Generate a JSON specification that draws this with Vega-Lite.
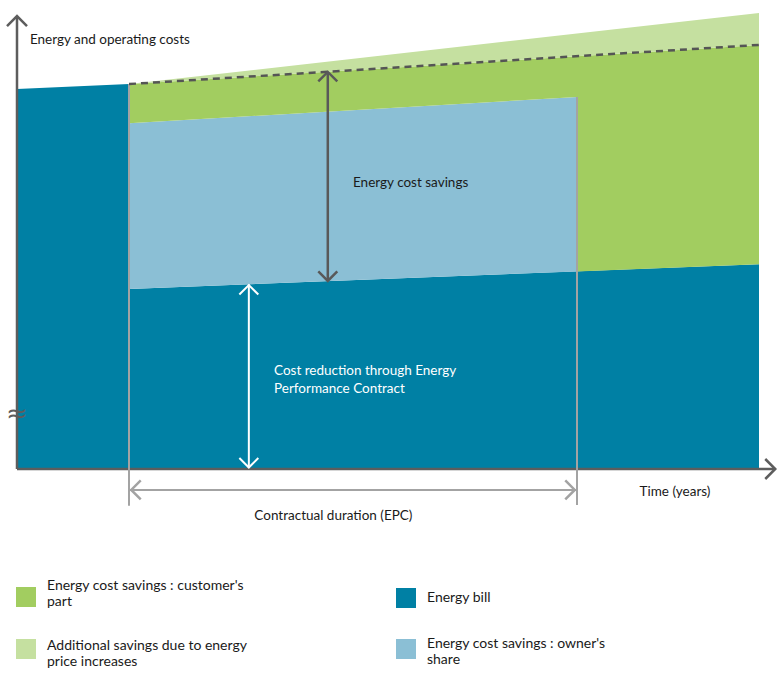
{
  "$schema": "https://vega.github.io/schema/vega-lite/v6.json",
  "width": 742,
  "height": 456,
  "autosize": {"type": "none"},
  "padding": {"left": 17, "top": 13, "right": 23, "bottom": 208},
  "background": "white",
  "config": {"view": {"stroke": null}, "font": "Lato"},
  "datasets": {
    "areas": [
      {"part": "bill_before", "series": "Energy bill", "year": 0, "cost": 100, "cost2": 0},
      {"part": "bill_before", "series": "Energy bill", "year": 2, "cost": 101.3, "cost2": 0},
      {"part": "bill_after", "series": "Energy bill", "year": 2, "cost": 47.4, "cost2": 0},
      {"part": "bill_after", "series": "Energy bill", "year": 13.25, "cost": 53.9, "cost2": 0},
      {"part": "owner", "series": "Energy cost savings : owner's share", "year": 2, "cost": 91, "cost2": 47.4},
      {"part": "owner", "series": "Energy cost savings : owner's share", "year": 10, "cost": 97.9, "cost2": 52.0},
      {"part": "customer_epc", "series": "Energy cost savings : customer's part", "year": 2, "cost": 101.3, "cost2": 91},
      {"part": "customer_epc", "series": "Energy cost savings : customer's part", "year": 10, "cost": 108.6, "cost2": 97.9},
      {"part": "customer_after", "series": "Energy cost savings : customer's part", "year": 10, "cost": 108.6, "cost2": 52.0},
      {"part": "customer_after", "series": "Energy cost savings : customer's part", "year": 13.25, "cost": 111.6, "cost2": 53.9},
      {"part": "additional", "series": "Additional savings due to energy price increases", "year": 2, "cost": 101.3, "cost2": 101.3},
      {"part": "additional", "series": "Additional savings due to energy price increases", "year": 13.25, "cost": 120, "cost2": 111.6}
    ],
    "lines": [
      {"line": "y_axis", "group": "axis", "year": 0, "cost": 0, "year2": 0, "cost2": 119.2},
      {"line": "x_axis", "group": "axis", "year": 0, "cost": 0, "year2": 13.54, "cost2": 0},
      {"line": "epc_start", "group": "grey", "year": 2, "cost": -9.7, "year2": 2, "cost2": 101.3},
      {"line": "epc_end", "group": "grey", "year": 10, "cost": -9.5, "year2": 10, "cost2": 97.9},
      {"line": "duration", "group": "grey", "year": 2, "cost": -5.5, "year2": 10, "cost2": -5.5},
      {"line": "savings", "group": "dark", "year": 5.55, "cost": 49.5, "year2": 5.55, "cost2": 104.5},
      {"line": "reduction", "group": "white", "year": 4.14, "cost": 0.3, "year2": 4.14, "cost2": 48.6},
      {"line": "baseline", "group": "dashed", "year": 2, "cost": 101.3, "year2": 13.25, "cost2": 111.6}
    ],
    "heads": [
      {"group": "axis", "year": 0, "cost": 119.2, "angle": 0},
      {"group": "axis", "year": 13.54, "cost": 0, "angle": 90},
      {"group": "dark", "year": 5.55, "cost": 104.5, "angle": 0},
      {"group": "dark", "year": 5.55, "cost": 49.5, "angle": 180},
      {"group": "white", "year": 4.14, "cost": 48.4, "angle": 0},
      {"group": "white", "year": 4.14, "cost": 0.4, "angle": 180},
      {"group": "grey", "year": 2.04, "cost": -5.5, "angle": 270},
      {"group": "grey", "year": 9.96, "cost": -5.5, "angle": 90}
    ],
    "texts": [
      {"group": "dark_left", "label": "Energy and operating costs", "year": 0.23, "cost": 112.9},
      {"group": "dark_left", "label": "Energy cost savings", "year": 6.0, "cost": 75.3},
      {"group": "white_left", "label": "Cost reduction through Energy\nPerformance Contract", "year": 4.59, "cost": 25.8},
      {"group": "dark_center", "label": "Time (years)", "year": 11.75, "cost": -6},
      {"group": "dark_center", "label": "Contractual duration (EPC)", "year": 5.65, "cost": -12.4},
      {"group": "break", "label": "≈", "year": 0, "cost": 14.6}
    ]
  },
  "encoding": {
    "x": {"field": "year", "type": "quantitative", "scale": {"domain": [0, 13.25], "nice": false, "zero": false}, "axis": null},
    "y": {"field": "cost", "type": "quantitative", "scale": {"domain": [0, 120], "nice": false, "zero": false}, "axis": null}
  },
  "layer": [
    {
      "data": {"name": "areas"},
      "mark": {"type": "area", "interpolate": "linear", "opacity": 1},
      "encoding": {
        "y": {"field": "cost", "type": "quantitative", "stack": null},
        "y2": {"field": "cost2"},
        "detail": {"field": "part"},
        "color": {
          "field": "series",
          "type": "nominal",
          "scale": {
            "domain": ["Energy cost savings : customer's part", "Energy bill", "Additional savings due to energy price increases", "Energy cost savings : owner's share"],
            "range": ["#a2cd60", "#0080a4", "#c5e0a0", "#8bbfd5"]
          },
          "legend": {
            "orient": "none",
            "legendX": -1,
            "legendY": 570,
            "direction": "horizontal",
            "columns": 2,
            "title": null,
            "padding": 0,
            "symbolType": "square",
            "symbolSize": 400,
            "symbolStrokeWidth": 0,
            "symbolOpacity": 1,
            "labelFont": "Lato",
            "labelFontSize": 14,
            "labelColor": "#1a1a1a",
            "labelLimit": 400,
            "labelOffset": 11,
            "labelLineHeight": 17.5,
            "rowPadding": 23,
            "columnPadding": 149,
            "gridAlign": "all",
            "labelExpr": "split(replace(replace(replace(datum.label, \"customer's \", \"customer's|\"), \"owner's \", \"owner's|\"), 'energy ', 'energy|'), '|')",
            "encoding": {
              "labels": {
                "dy": {"value": {"expr": "indexof(datum.value, 'customer') >= 0 ? -11 : indexof(datum.value, 'Additional') >= 0 ? -3.5 : indexof(datum.value, 'owner') >= 0 ? -5.5 : 0"}}
              }
            }
          }
        }
      }
    },
    {
      "data": {"name": "lines"},
      "transform": [{"filter": "datum.group === 'axis'"}],
      "mark": {"type": "rule", "color": "#5d5d5d", "strokeWidth": 2.5},
      "encoding": {"x2": {"field": "year2"}, "y2": {"field": "cost2"}}
    },
    {
      "data": {"name": "lines"},
      "transform": [{"filter": "datum.group === 'grey'"}],
      "mark": {"type": "rule", "color": "#a3a3a3", "strokeWidth": 2},
      "encoding": {"x2": {"field": "year2"}, "y2": {"field": "cost2"}}
    },
    {
      "data": {"name": "lines"},
      "transform": [{"filter": "datum.group === 'dark'"}],
      "mark": {"type": "rule", "color": "#595959", "strokeWidth": 2.5},
      "encoding": {"x2": {"field": "year2"}, "y2": {"field": "cost2"}}
    },
    {
      "data": {"name": "lines"},
      "transform": [{"filter": "datum.group === 'white'"}],
      "mark": {"type": "rule", "color": "#ffffff", "strokeWidth": 2},
      "encoding": {"x2": {"field": "year2"}, "y2": {"field": "cost2"}}
    },
    {
      "data": {"name": "lines"},
      "transform": [{"filter": "datum.group === 'dashed'"}],
      "mark": {"type": "rule", "color": "#555555", "strokeWidth": 2.5, "strokeDash": [7, 5]},
      "encoding": {"x2": {"field": "year2"}, "y2": {"field": "cost2"}}
    },
    {
      "data": {"name": "heads"},
      "transform": [{"filter": "datum.group === 'axis'"}],
      "mark": {"type": "point", "shape": "M-1,1L0,0L1,1", "filled": false, "stroke": "#5d5d5d", "strokeWidth": 2.5, "size": 400, "opacity": 1},
      "encoding": {"angle": {"field": "angle", "type": "quantitative", "scale": null}}
    },
    {
      "data": {"name": "heads"},
      "transform": [{"filter": "datum.group === 'dark'"}],
      "mark": {"type": "point", "shape": "M-1,1L0,0L1,1", "filled": false, "stroke": "#595959", "strokeWidth": 2.5, "size": 360, "opacity": 1},
      "encoding": {"angle": {"field": "angle", "type": "quantitative", "scale": null}}
    },
    {
      "data": {"name": "heads"},
      "transform": [{"filter": "datum.group === 'white'"}],
      "mark": {"type": "point", "shape": "M-1,1L0,0L1,1", "filled": false, "stroke": "#ffffff", "strokeWidth": 2, "size": 360, "opacity": 1},
      "encoding": {"angle": {"field": "angle", "type": "quantitative", "scale": null}}
    },
    {
      "data": {"name": "heads"},
      "transform": [{"filter": "datum.group === 'grey'"}],
      "mark": {"type": "point", "shape": "M-1,1L0,0L1,1", "filled": false, "stroke": "#a3a3a3", "strokeWidth": 2.5, "size": 360, "opacity": 1},
      "encoding": {"angle": {"field": "angle", "type": "quantitative", "scale": null}}
    },
    {
      "data": {"name": "texts"},
      "transform": [{"filter": "datum.group === 'dark_left'"}],
      "mark": {"type": "text", "align": "left", "baseline": "middle", "font": "Lato", "fontSize": 13.5, "color": "#1a1a1a"},
      "encoding": {"text": {"field": "label"}}
    },
    {
      "data": {"name": "texts"},
      "transform": [{"filter": "datum.group === 'white_left'"}],
      "mark": {"type": "text", "align": "left", "baseline": "middle", "font": "Lato", "fontSize": 13.5, "color": "#ffffff", "lineBreak": "\n", "lineHeight": 18},
      "encoding": {"text": {"field": "label"}}
    },
    {
      "data": {"name": "texts"},
      "transform": [{"filter": "datum.group === 'dark_center'"}],
      "mark": {"type": "text", "align": "center", "baseline": "middle", "font": "Lato", "fontSize": 13.5, "color": "#1a1a1a"},
      "encoding": {"text": {"field": "label"}}
    },
    {
      "data": {"name": "texts"},
      "transform": [{"filter": "datum.group === 'break'"}],
      "mark": {"type": "text", "align": "center", "baseline": "middle", "font": "DejaVu Sans", "fontSize": 26, "color": "#5d5d5d"},
      "encoding": {"text": {"field": "label"}}
    }
  ]
}
